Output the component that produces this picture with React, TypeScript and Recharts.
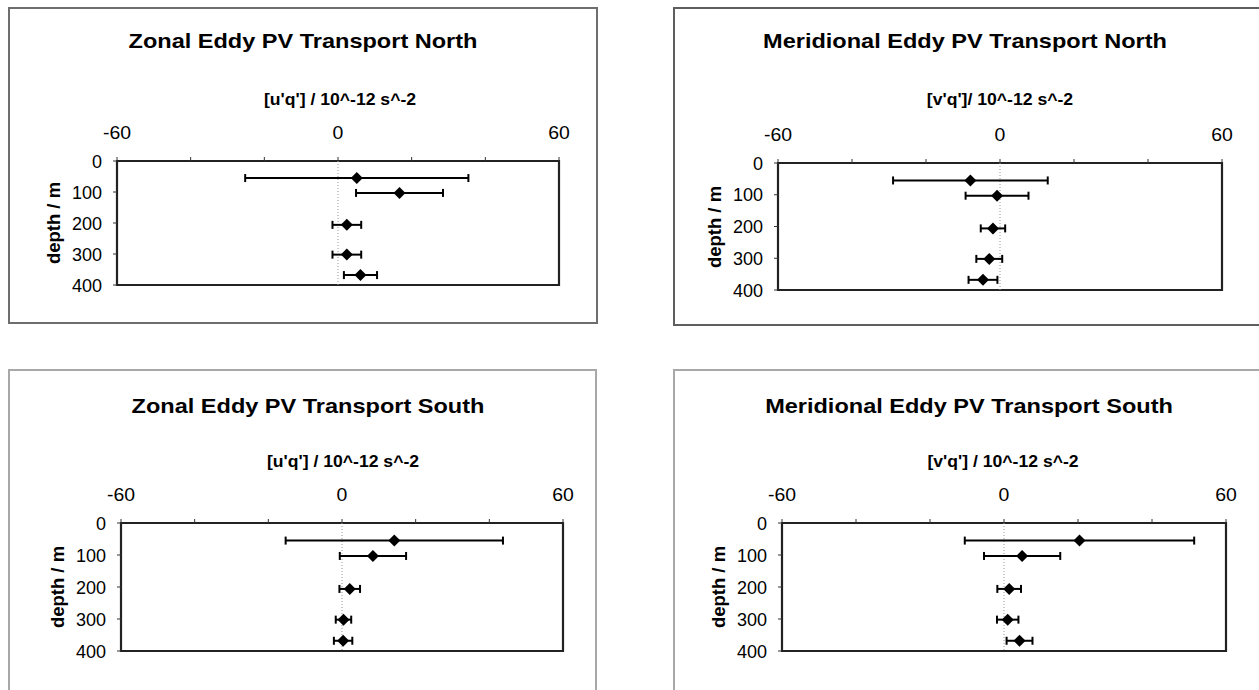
import React from "react";
import {
  ScatterChart,
  Scatter,
  XAxis,
  YAxis,
  ErrorBar,
  ReferenceLine,
  ReferenceArea,
} from "recharts";

// depth of each level (m), shared by all four panels
const depths = [55, 103, 206, 302, 368];

// eddy PV transport, mean and error half-width (10^-12 s^-2)
const zonalNorthMean = [5.1, 16.7, 2.4, 2.4, 6.1];
const zonalNorthErr = [30.3, 11.8, 3.9, 3.9, 4.5];
const meridNorthMean = [-8.0, -0.8, -1.9, -2.9, -4.6];
const meridNorthErr = [20.9, 8.5, 3.3, 3.5, 3.9];
const zonalSouthMean = [14.2, 8.4, 2.1, 0.4, 0.3];
const zonalSouthErr = [29.5, 9.0, 2.8, 2.1, 2.5];
const meridSouthMean = [20.4, 4.9, 1.4, 1.0, 4.2];
const meridSouthErr = [31.0, 10.3, 3.2, 2.9, 3.5];

const xTicks = [-60, -40, -20, 0, 20, 40, 60];
const xLabels = [-60, 0, 60];
const yTicks = [0, 100, 200, 300, 400];

const FONT = '"Liberation Sans", Arial, Helvetica, sans-serif';
const YW = 70; // y axis width
const XH = 40; // x axis height
const RM = 28; // right margin, room for the "60" label
const BM = 16; // bottom margin, room for the "400" label

type Box = { left: number; top: number; width: number; height: number };

interface PanelProps {
  title: string;
  axisTitle: string;
  mean: number[];
  err: number[];
  frame: Box;
  frameColor: string;
  plot: Box;
  titleX: number;
  titleBase: number;
  axisX: number;
  axisBase: number;
}

function Label({
  x,
  base,
  size,
  scale = 1,
  children,
}: {
  x: number;
  base: number;
  size: number;
  scale?: number;
  children: React.ReactNode;
}) {
  return (
    <div
      style={{
        position: "absolute",
        left: x,
        top: base - size * 0.8465,
        fontFamily: FONT,
        fontSize: size,
        fontWeight: 700,
        lineHeight: `${size}px`,
        whiteSpace: "nowrap",
        color: "#000",
        transform: `translateX(-50%) scaleX(${scale})`,
      }}
    >
      {children}
    </div>
  );
}

const Diamond = (props: any) => {
  const { cx, cy } = props;
  if (cx == null || cy == null) return <g />;
  const r = 6;
  return (
    <path
      d={`M${cx},${cy - r}L${cx + r},${cy}L${cx},${cy + r}L${cx - r},${cy}Z`}
      fill="#000"
    />
  );
};

const TopTick = (props: any) => {
  const { x, y, payload } = props;
  if (!xLabels.includes(payload.value)) return <g />;
  return (
    <text
      x={x}
      y={y - 16}
      textAnchor="middle"
      fontFamily={FONT}
      fontSize={18}
      fill="#000"
      transform={`translate(${x} 0) scale(1.08 1) translate(${-x} 0)`}
    >
      {payload.value}
    </text>
  );
};

const LeftTick = (props: any) => {
  const { x, y, payload } = props;
  return (
    <text
      x={x - 9}
      y={y + 6.5}
      textAnchor="end"
      fontFamily={FONT}
      fontSize={18}
      fill="#000"
    >
      {payload.value}
    </text>
  );
};

function Panel(p: PanelProps) {
  const rows = depths.map((d, i) => ({ depth: d, value: p.mean[i], err: p.err[i] }));
  return (
    <>
      <div
        style={{
          position: "absolute",
          left: p.frame.left,
          top: p.frame.top,
          width: p.frame.width,
          height: p.frame.height,
          border: `2px solid ${p.frameColor}`,
          boxSizing: "border-box",
        }}
      />
      <Label x={p.titleX} base={p.titleBase} size={21} scale={1.12}>
        {p.title}
      </Label>
      <Label x={p.axisX} base={p.axisBase} size={16} scale={1.1}>
        {p.axisTitle}
      </Label>
      <div
        style={{
          position: "absolute",
          left: p.plot.left - 64,
          top: p.plot.top + p.plot.height / 2,
          transform: "translate(-50%, -50%) rotate(-90deg)",
          fontFamily: FONT,
          fontSize: 18.5,
          fontWeight: 700,
          lineHeight: "19px",
          whiteSpace: "nowrap",
          color: "#000",
        }}
      >
        depth / m
      </div>
      <div
        style={{
          position: "absolute",
          left: p.plot.left - YW,
          top: p.plot.top - XH,
        }}
      >
        <ScatterChart
          width={YW + p.plot.width + RM}
          height={XH + p.plot.height + BM}
          margin={{ top: 0, right: RM, bottom: BM, left: 0 }}
        >
          <XAxis
            type="number"
            dataKey="value"
            orientation="top"
            domain={[-60, 60]}
            ticks={xTicks}
            interval={0}
            height={XH}
            axisLine={false}
            tickLine={{ stroke: "#333", strokeWidth: 1 }}
            tickSize={4}
            tickMargin={2}
            tick={TopTick}
            allowDataOverflow
          />
          <YAxis
            type="number"
            dataKey="depth"
            reversed
            domain={[0, 400]}
            ticks={yTicks}
            interval={0}
            width={YW}
            axisLine={false}
            tickLine={{ stroke: "#333", strokeWidth: 1 }}
            tickSize={4}
            tickMargin={2}
            tick={LeftTick}
            allowDataOverflow
          />
          <ReferenceLine x={0} stroke="#9a9a9a" strokeDasharray="1 2" strokeWidth={1} />
          <ReferenceArea
            x1={-60}
            x2={60}
            y1={0}
            y2={400}
            fill="none"
            fillOpacity={0}
            stroke="#222"
            strokeWidth={2.2}
          />
          <Scatter data={rows} shape={Diamond} isAnimationActive={false}>
            <ErrorBar
              dataKey="err"
              direction="x"
              width={4}
              stroke="#000"
              strokeWidth={2}
              isAnimationActive={false}
            />
          </Scatter>
        </ScatterChart>
      </div>
    </>
  );
}

export default function App() {
  return (
    <div
      style={{
        position: "absolute",
        left: 0,
        top: 0,
        width: 1259,
        height: 690,
        overflow: "hidden",
        background: "#fff",
      }}
    >
      <Panel
        title="Zonal Eddy PV Transport North"
        axisTitle="[u'q'] / 10^-12 s^-2"
        mean={zonalNorthMean}
        err={zonalNorthErr}
        frame={{ left: 8, top: 7, width: 590, height: 317 }}
        frameColor="#6e6e6e"
        plot={{ left: 117, top: 161, width: 442, height: 124 }}
        titleX={303}
        titleBase={48}
        axisX={340}
        axisBase={106}
      />
      <Panel
        title="Meridional Eddy PV Transport North"
        axisTitle="[v'q']/ 10^-12 s^-2"
        mean={meridNorthMean}
        err={meridNorthErr}
        frame={{ left: 673, top: 7, width: 620, height: 319 }}
        frameColor="#5e5e5e"
        plot={{ left: 778, top: 163, width: 444, height: 127 }}
        titleX={965}
        titleBase={48}
        axisX={1000}
        axisBase={106}
      />
      <Panel
        title="Zonal Eddy PV Transport South"
        axisTitle="[u'q'] / 10^-12 s^-2"
        mean={zonalSouthMean}
        err={zonalSouthErr}
        frame={{ left: 8, top: 369, width: 589, height: 360 }}
        frameColor="#a8a8a8"
        plot={{ left: 121, top: 523, width: 442, height: 128 }}
        titleX={308}
        titleBase={413}
        axisX={343}
        axisBase={468}
      />
      <Panel
        title="Meridional Eddy PV Transport South"
        axisTitle="[v'q'] / 10^-12 s^-2"
        mean={meridSouthMean}
        err={meridSouthErr}
        frame={{ left: 673, top: 369, width: 620, height: 360 }}
        frameColor="#a8a8a8"
        plot={{ left: 782, top: 523, width: 444, height: 128 }}
        titleX={969}
        titleBase={413}
        axisX={1003}
        axisBase={468}
      />
    </div>
  );
}
